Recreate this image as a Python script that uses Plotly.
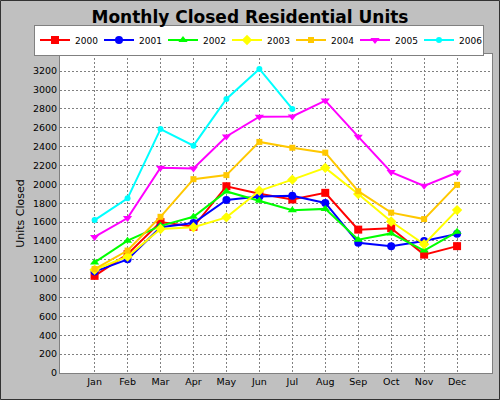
import plotly.graph_objects as go

# values
months = ["Jan", "Feb", "Mar", "Apr", "May", "Jun", "Jul", "Aug", "Sep", "Oct", "Nov", "Dec"]
years = ["2000", "2001", "2002", "2003", "2004", "2005", "2006"]

u2000 = [1030, 1260, 1600, 1550, 1980, 1900, 1840, 1910, 1520, 1535, 1255, 1345]
u2001 = [1075, 1205, 1545, 1590, 1835, 1870, 1878, 1803, 1380, 1345, 1400, 1475]
u2002 = [1172, 1403, 1560, 1656, 1925, 1826, 1726, 1740, 1414, 1480, 1298, 1497]
u2003 = [1095, 1235, 1526, 1545, 1650, 1932, 2050, 2175, 1897, 1606, 1365, 1727]
u2004 = [1102, 1298, 1656, 2055, 2098, 2450, 2388, 2336, 1928, 1700, 1632, 1995]
u2005 = [1442, 1642, 2177, 2168, 2508, 2718, 2720, 2888, 2506, 2130, 1984, 2126]
u2006 = [1621, 1852, 2586, 2410, 2905, 3224, 2800]

series = [u2000, u2001, u2002, u2003, u2004, u2005, u2006]
colors = ["#FF0000", "#0000FF", "#00FF00", "#FFFF00", "#FFC800", "#FF00FF", "#00FFFF"]
symbols = ["square", "circle", "triangle-up", "diamond", "square", "triangle-down", "circle"]
sizes = [8, 8, 8, 8, 6, 8, 6]

fig = go.Figure()

for name, vals, col, sym, sz in zip(years, series, colors, symbols, sizes):
    fig.add_trace(go.Scatter(
        x=months[:len(vals)],
        y=vals,
        mode="lines+markers",
        name=name,
        line=dict(color=col, width=2),
        marker=dict(color=col, symbol=sym, size=sz),
    ))

# outer dark frame round the whole picture (paper coords of 500x400 image)
pw, ph = 432.0, 319.0
fig.add_shape(
    type="rect", xref="paper", yref="paper",
    x0=(0.5 - 60) / pw, x1=(499.5 - 60) / pw,
    y0=(373 - 399.5) / ph, y1=(373 - 0.5) / ph,
    line=dict(color="#333333", width=1), layer="below",
)

fig.update_layout(
    width=500,
    height=400,
    paper_bgcolor="#C0C0C0",
    plot_bgcolor="#FFFFFF",
    font=dict(family="DejaVu Sans", size=9.5, color="#000000"),
    margin=dict(l=60, r=8, t=54, b=27, autoexpand=False),
    title=dict(
        text="<b>Monthly Closed Residential Units</b>",
        font=dict(size=17, family="DejaVu Sans"),
        x=0.5, xref="container", xanchor="center",
        y=1 - 17 / 400, yref="container", yanchor="middle",
    ),
    showlegend=True,
    legend=dict(
        orientation="h",
        x=(34 - 60) / pw, y=(373 - 40) / ph,
        xanchor="left", yanchor="middle",
        bgcolor="#FFFFFF",
        bordercolor="#808080",
        borderwidth=1,
        itemwidth=30,
        entrywidth=19,
        font=dict(size=9),
    ),
    xaxis=dict(
        range=[-1.05, 12.06],
        showgrid=True,
        gridcolor="#808080",
        griddash="2px,2px",
        gridwidth=1,
        showline=True,
        linecolor="#808080",
        mirror=True,
        ticks="",
        zeroline=False,
    ),
    yaxis=dict(
        range=[0, 3382],
        dtick=200,
        tick0=0,
        showgrid=True,
        gridcolor="#808080",
        griddash="2px,2px",
        gridwidth=1,
        showline=True,
        linecolor="#808080",
        mirror=True,
        ticks="",
        zeroline=False,
        title=dict(text="Units Closed", font=dict(size=11), standoff=6),
    ),
)

fig.write_html(
    "out.html",
    config={"displayModeBar": False},
    post_script="document.body.style.margin='0';document.body.style.padding='0';",
)
